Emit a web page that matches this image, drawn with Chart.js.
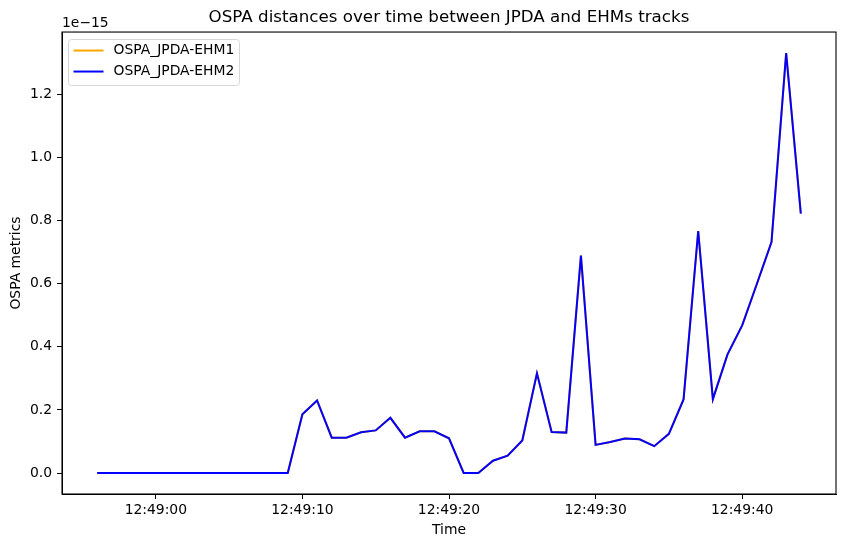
<!DOCTYPE html>
<html>
<head>
<meta charset="utf-8">
<script src="https://cdn.jsdelivr.net/npm/chart.js@4.4.1/dist/chart.umd.min.js"></script>
<style>
  html, body { margin: 0; padding: 0; background: #fff; }
  #wrap { position: relative; width: 846px; height: 547px; }
</style>
</head>
<body>
<div id="wrap"><canvas id="ospa"></canvas></div>
<script>
// OSPA 距离随时间变化（JPDA vs EHM），数值单位 1e-15，每秒一个采样
const times = [
  '12:48:56', '12:48:57', '12:48:58', '12:48:59', '12:49:00', '12:49:01', '12:49:02',
  '12:49:03', '12:49:04', '12:49:05', '12:49:06', '12:49:07', '12:49:08', '12:49:09',
  '12:49:10', '12:49:11', '12:49:12', '12:49:13', '12:49:14', '12:49:15', '12:49:16',
  '12:49:17', '12:49:18', '12:49:19', '12:49:20', '12:49:21', '12:49:22', '12:49:23',
  '12:49:24', '12:49:25', '12:49:26', '12:49:27', '12:49:28', '12:49:29', '12:49:30',
  '12:49:31', '12:49:32', '12:49:33', '12:49:34', '12:49:35', '12:49:36', '12:49:37',
  '12:49:38', '12:49:39', '12:49:40', '12:49:41', '12:49:42', '12:49:43', '12:49:44',
];
const ospaEhm1 = [
  0, 0, 0, 0, 0, 0, 0, 0, 0, 0, 0, 0, 0, 0,
  0.186, 0.230, 0.112, 0.112, 0.129, 0.135, 0.175, 0.112, 0.132, 0.132, 0.110,
  0, 0, 0.039, 0.055, 0.103, 0.316, 0.130, 0.128, 0.689, 0.089,
  0.098, 0.109, 0.107, 0.085, 0.124, 0.233, 0.767, 0.234, 0.376, 0.468,
  0.599, 0.732, 1.331, 0.822,
];
const ospaEhm2 = [
  0, 0, 0, 0, 0, 0, 0, 0, 0, 0, 0, 0, 0, 0,
  0.186, 0.230, 0.112, 0.112, 0.129, 0.135, 0.175, 0.112, 0.132, 0.132, 0.110,
  0, 0, 0.039, 0.055, 0.103, 0.316, 0.130, 0.128, 0.689, 0.089,
  0.098, 0.109, 0.107, 0.085, 0.124, 0.233, 0.767, 0.234, 0.376, 0.468,
  0.599, 0.732, 1.331, 0.822,
];
const xTickLabels = ['12:49:00', '12:49:10', '12:49:20', '12:49:30', '12:49:40'];
const yTicks = [0, 0.2, 0.4, 0.6, 0.8, 1.0, 1.2];
const offsetLabel = '1e\u221215';
const seriesNames = ['OSPA_JPDA-EHM1', 'OSPA_JPDA-EHM2'];
const seriesColors = ['#ffa500', '#0000ff'];

// 时间字符串 -> 相对 12:49:00 的秒数（x 轴用线性刻度，无需日期适配器）
const BASE = 12 * 3600 + 49 * 60;
const toSec = (s) => { const [h, m, x] = s.split(':').map(Number); return h * 3600 + m * 60 + x - BASE; };
const fmt = (v) => {
  const t = BASE + Math.round(v);
  const p = (n) => String(n).padStart(2, '0');
  return p(Math.floor(t / 3600)) + ':' + p(Math.floor(t / 60) % 60) + ':' + p(t % 60);
};

const xs = times.map(toSec);
const allY = ospaEhm1.concat(ospaEhm2);
// matplotlib 默认 5% 边距
const xMin = Math.min(...xs), xMax = Math.max(...xs), xPad = (xMax - xMin) * 0.05;
const yMin = Math.min(...allY), yMax = Math.max(...allY), yPad = (yMax - yMin) * 0.05;

const FONT = 'DejaVu Sans';
const fs = 13.9;

const mplDecor = {
  id: 'mplDecor',
  afterDraw(chart) {
    const { ctx, chartArea: a } = chart;
    ctx.save();
    // 坐标轴外框
    ctx.strokeStyle = '#000';
    ctx.lineWidth = 1.1;
    ctx.strokeRect(a.left, a.top, a.right - a.left, a.bottom - a.top);
    // 科学计数偏移文字
    ctx.fillStyle = '#000';
    ctx.font = `${fs}px "${FONT}"`;
    ctx.textAlign = 'left';
    ctx.textBaseline = 'middle';
    ctx.fillText(offsetLabel, a.left, a.top - 9);
    // 图例（左上角，圆角浅灰边框）
    const bx = a.left + 6.5, by = a.top + 7.5, bw = 171, bh = 46;
    ctx.beginPath();
    ctx.roundRect(bx, by, bw, bh, 3);
    ctx.fillStyle = 'rgba(255,255,255,0.8)';
    ctx.fill();
    ctx.strokeStyle = '#d6d6d6';
    ctx.lineWidth = 1;
    ctx.stroke();
    seriesNames.forEach((name, i) => {
      const cy = by + 11 + i * 21;
      ctx.strokeStyle = seriesColors[i];
      ctx.lineWidth = 2;
      ctx.beginPath();
      ctx.moveTo(bx + 5, cy);
      ctx.lineTo(bx + 35, cy);
      ctx.stroke();
      ctx.fillStyle = '#000';
      ctx.fillText(name, bx + 45, cy);
    });
    ctx.restore();
  },
};

new Chart(document.getElementById('ospa'), {
  type: 'line',
  data: {
    datasets: [
      { label: seriesNames[0], data: xs.map((x, i) => ({ x, y: ospaEhm1[i] })),
        borderColor: seriesColors[0], order: 1 },
      { label: seriesNames[1], data: xs.map((x, i) => ({ x, y: ospaEhm2[i] })),
        borderColor: seriesColors[1], order: 0 },
    ],
  },
  options: {
    responsive: true, maintainAspectRatio: false, animation: false,
    layout: { padding: { left: 0, right: 10, top: 0, bottom: 0 } },
    elements: { line: { borderWidth: 2, tension: 0 }, point: { radius: 0 } },
    plugins: {
      legend: { display: false },
      tooltip: { enabled: false },
      title: {
        display: true, fullSize: false,
        text: 'OSPA distances over time between JPDA and EHMs tracks',
        color: '#000', font: { family: FONT, size: 16.7, weight: 'normal' },
        padding: { top: 8, bottom: 4 },
      },
    },
    scales: {
      x: {
        type: 'linear', min: xMin - xPad, max: xMax + xPad,
        afterFit: (s) => { s.height = 53; },
        afterBuildTicks: (s) => { s.ticks = xTickLabels.map((t) => ({ value: toSec(t) })); },
        ticks: { color: '#000', font: { family: FONT, size: fs }, padding: 3,
          autoSkip: false, maxRotation: 0, callback: (v) => fmt(v) },
        grid: { display: true, drawOnChartArea: false, drawTicks: true, tickLength: 5, color: '#000', lineWidth: 1 },
        border: { display: true, color: '#000', width: 1 },
        title: { display: true, text: 'Time', color: '#000', font: { family: FONT, size: fs }, padding: { top: 0, bottom: 8.5 } },
      },
      y: {
        min: yMin - yPad, max: yMax + yPad,
        afterFit: (s) => { s.width = 62; },
        afterBuildTicks: (s) => { s.ticks = yTicks.map((v) => ({ value: v })); },
        ticks: { color: '#000', font: { family: FONT, size: fs }, padding: 5, callback: (v) => v.toFixed(1) },
        grid: { display: true, drawOnChartArea: false, drawTicks: true, tickLength: 5, color: '#000', lineWidth: 1 },
        border: { display: true, color: '#000', width: 1 },
        title: { display: true, text: 'OSPA metrics', color: '#000', font: { family: FONT, size: fs }, padding: { top: 8, bottom: 0 } },
      },
    },
  },
  plugins: [mplDecor],
});
</script>
</body>
</html>
